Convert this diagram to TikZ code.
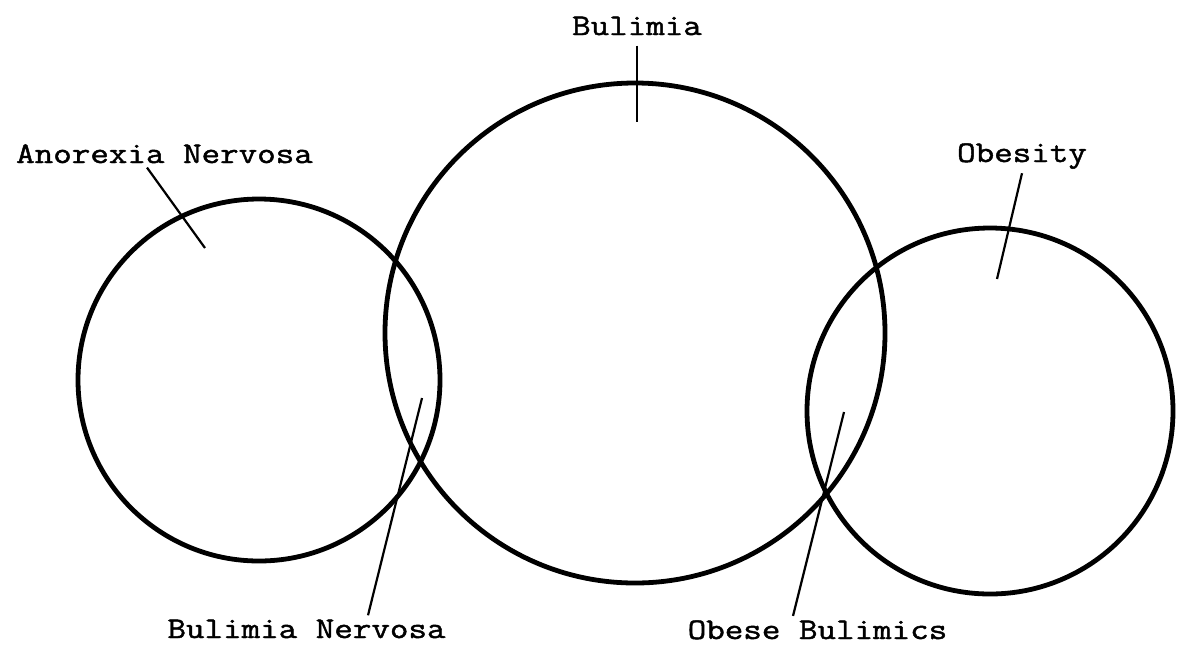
\documentclass[tikz,border=0pt]{standalone}
\usepackage{fontspec}
\newfontfamily\typewriter[FakeStretch=1.2, FakeBold=1.5]{Latin Modern Mono}

\begin{document}
\begin{tikzpicture}[
    x=0.5pt, y=-0.5pt,
    ring/.style={circle, draw, line width=2.4pt, inner sep=0pt},
    term/.style={anchor=base, inner sep=2pt, font=\typewriter\fontsize{15}{18}\selectfont},
    leader/.style={line width=1.1pt}
  ]
  \useasboundingbox (0,0) rectangle (1177,644);

  % circles
  \node[ring, minimum size=181pt] (anorexia) at (259,380) {};
  \node[ring, minimum size=250pt] (bulimia) at (635,333) {};
  \node[ring, minimum size=183pt] (obesity) at (990,411) {};

  % labels
  \node[term] (anorexia-lbl) at (164.5,163) {Anorexia Nervosa};
  \node[term] (bulimia-lbl) at (637,35) {Bulimia};
  \node[term] (obesity-lbl) at (1022,162) {Obesity};
  \node[term] (nervosa-lbl) at (306.5,638) {Bulimia Nervosa};
  \node[term] (obese-lbl) at (817.5,639) {Obese Bulimics};

  % pointer ends
  \coordinate (anorexia-tip) at (205,248);
  \coordinate (bulimia-tip) at (637,122);
  \coordinate (obesity-tip) at (997,279);
  \coordinate (nervosa-tip) at (422,398);
  \coordinate (obese-tip) at (844,412);

  % leader lines
  \draw[leader] ([xshift=-8.75pt]anorexia-lbl.south) -- (anorexia-tip);
  \draw[leader] ([yshift=-3pt]bulimia-lbl.south) -- (bulimia-tip);
  \draw[leader] (obesity-lbl.south) -- (obesity-tip);
  \draw[leader] ([xshift=30.75pt]nervosa-lbl.north) -- (nervosa-tip);
  \draw[leader] ([xshift=-12.25pt]obese-lbl.north) -- (obese-tip);

\end{tikzpicture}
\end{document}
